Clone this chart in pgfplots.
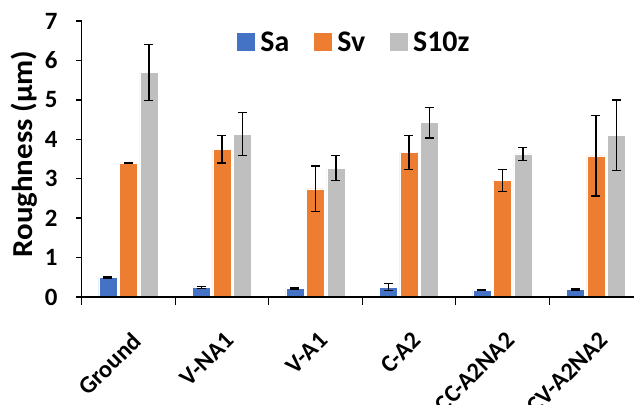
\documentclass[border=0pt]{standalone}
\usepackage{fontspec}
\setmainfont{Carlito}
\usepackage{pgfplots}
\usepackage{pgfplotstable}
\pgfplotsset{compat=1.18}
\definecolor{cSa}{HTML}{4472C4}
\definecolor{cSv}{HTML}{ED7D31}
\definecolor{cSz}{HTML}{BFBFBF}
\pgfplotstableread{
x sa sae sv sve sz sze
0 0.50 0.02 3.40 0.01 5.69 0.71
1 0.24 0.02 3.75 0.35 4.13 0.55
2 0.22 0.02 2.74 0.58 3.27 0.32
3 0.25 0.09 3.67 0.43 4.42 0.39
4 0.17 0.01 2.95 0.28 3.63 0.165
5 0.19 0.01 3.58 1.02 4.10 0.90
}\data
\begin{document}
\begin{tikzpicture}
\begin{axis}[
  scale only axis, width=552.3bp, height=276bp,
  ymin=0, ymax=7, xmin=-0.5, xmax=5.407,
  ybar=2.5bp, bar width=18bp,
  axis on top,
  axis x line*=bottom, axis y line*=left,
  axis line style={line width=1.3bp, black},
  tick style={line width=1.3bp, black},
  tick align=outside,
  major tick length=6bp, minor tick length=8bp,
  xtick={0,...,5},
  xticklabels={Ground,V-NA1,V-A1,C-A2,CC-A2NA2,CV-A2NA2},
  minor xtick={-0.5,0.5,...,4.5},
  major x tick style={draw=none},
  ytick={0,...,7},
  /pgf/number format/assume math mode=true,
  yticklabel style={font=\bfseries\fontsize{25}{25}\selectfont, inner sep=0bp, anchor=east, xshift=-18bp},
  xticklabel style={font=\bfseries\fontsize{24.5}{24.5}\selectfont, rotate=45, anchor=north east, inner sep=2bp, xshift=-16bp, yshift=-19bp},
  ylabel={\scalebox{1.07}[1]{Roughness (µm)}},
  ylabel style={font=\bfseries\fontsize{29}{29}\selectfont, at={(axis description cs:0,0.5)}, anchor=center, yshift=57bp, xshift=5bp},
  legend style={at={(0.492,0.924)}, anchor=center, draw=none, fill=none,
    font=\bfseries\fontsize{30}{30}\selectfont, legend columns=-1,
    nodes={inner sep=0bp},
    /tikz/every odd column/.append style={column sep=5bp},
    /tikz/every even column/.append style={column sep=25bp}},
  legend image code/.code={\fill[#1,draw=none] (0bp,-9bp) rectangle (18bp,9bp);},
  error bars/error bar style={line width=1.3bp, black},
  error bars/error mark options={rotate=90, line width=1.3bp, black, mark size=4.5bp},
]
\addplot[fill=cSa, draw=white, line width=0.6bp, error bars/.cd, y dir=both, y explicit] table[x=x, y=sa, y error=sae] {\data};
\addplot[fill=cSv, draw=white, line width=0.6bp, error bars/.cd, y dir=both, y explicit] table[x=x, y=sv, y error=sve] {\data};
\addplot[fill=cSz, draw=white, line width=0.6bp, error bars/.cd, y dir=both, y explicit] table[x=x, y=sz, y error=sze] {\data};
\legend{Sa,Sv,S10z}
\coordinate (sw) at (rel axis cs:0,0);
\coordinate (ne) at (rel axis cs:1,1);
\end{axis}
\pgfresetboundingbox
\path ([shift={(-81.7bp,-108bp)}]sw) rectangle ([shift={(0bp,21bp)}]ne);
\end{tikzpicture}
\end{document}
